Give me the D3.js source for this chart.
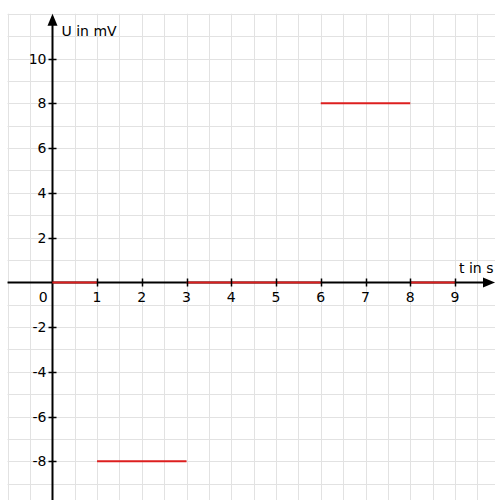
<!DOCTYPE html>
<html>
<head>
<meta charset="utf-8">
<script src="https://cdn.jsdelivr.net/npm/d3@7"></script>
<style>
html,body{margin:0;padding:0;background:#fff;}
svg{display:block;}
text{font-family:"DejaVu Sans",Verdana,sans-serif;font-size:14px;fill:#000;}
</style>
</head>
<body>
<svg id="chart" width="495" height="500"></svg>
<script>
// Data
const segStart = [0, 1, 3, 6, 8];
const segEnd   = [1, 3, 6, 8, 9];
const segValue = [0, -8, 0, 8, 0];
const xTicks = [1, 2, 3, 4, 5, 6, 7, 8, 9];
const yTicks = [10, 8, 6, 4, 2, -2, -4, -6, -8];
const xLabel = "t in s";
const yLabel = "U in mV";

const W = 495, H = 500;
const svg = d3.select("#chart");
const x = d3.scaleLinear().domain([0, 9]).range([52.3, 455]);
const y = d3.scaleLinear().domain([0, 10]).range([282.3, 58.5]);

const gridLeft = x(-1), gridTop = y(12);

// grid
const g = svg.append("g").attr("stroke", "#e2e2e2").attr("stroke-width", 1);
const vx = d3.range(-1, 10.01, 0.5);
g.selectAll("line.v").data(vx).enter().append("line")
  .attr("x1", d => Math.round(x(d)) + 0.5).attr("x2", d => Math.round(x(d)) + 0.5)
  .attr("y1", gridTop).attr("y2", H);
const hy = d3.range(-10, 12.01, 1);
g.selectAll("line.h").data(hy).enter().append("line")
  .attr("y1", d => Math.round(y(d)) + 0.5).attr("y2", d => Math.round(y(d)) + 0.5)
  .attr("x1", gridLeft).attr("x2", W);

// axes
const ax0 = Math.round(x(0)) + 0.5, ay0 = Math.round(y(0)) + 0.5;
svg.append("line").attr("x1", gridLeft).attr("x2", W - 10).attr("y1", ay0).attr("y2", ay0)
  .attr("stroke", "#000").attr("stroke-width", 2);
svg.append("path").attr("d", `M${W},${ay0} L${W - 12},${ay0 - 5} L${W - 12},${ay0 + 5}Z`).attr("fill", "#000");
svg.append("line").attr("x1", ax0).attr("x2", ax0).attr("y1", gridTop + 10).attr("y2", H)
  .attr("stroke", "#000").attr("stroke-width", 2);
svg.append("path").attr("d", `M${ax0},${gridTop} L${ax0 - 5},${gridTop + 12} L${ax0 + 5},${gridTop + 12}Z`).attr("fill", "#000");

// red function
svg.append("g").selectAll("line").data(segStart).enter().append("line")
  .attr("x1", (d, i) => x(segStart[i])).attr("x2", (d, i) => x(segEnd[i]))
  .attr("y1", (d, i) => segValue[i] === 0 ? ay0 : y(segValue[i]))
  .attr("y2", (d, i) => segValue[i] === 0 ? ay0 : y(segValue[i]))
  .attr("stroke", "#dd1f1f").attr("stroke-width", 2);

// ticks
svg.append("g").selectAll("line").data(xTicks).enter().append("line")
  .attr("x1", d => Math.round(x(d)) + 0.5).attr("x2", d => Math.round(x(d)) + 0.5)
  .attr("y1", ay0 - 4).attr("y2", ay0 + 4).attr("stroke", "#000").attr("stroke-width", 1.5);
svg.append("g").selectAll("line").data(yTicks).enter().append("line")
  .attr("y1", d => Math.round(y(d)) + 0.5).attr("y2", d => Math.round(y(d)) + 0.5)
  .attr("x1", ax0 - 4).attr("x2", ax0 + 4).attr("stroke", "#000").attr("stroke-width", 1.5);

// labels
svg.append("g").selectAll("text").data(xTicks).enter().append("text")
  .attr("x", d => x(d)).attr("y", ay0 + 19).attr("text-anchor", "middle").text(d => d);
svg.append("text").attr("x", x(0) - 9).attr("y", ay0 + 19).attr("text-anchor", "middle").text("0");
svg.append("g").selectAll("text").data(yTicks).enter().append("text")
  .attr("x", ax0 - 6).attr("y", d => y(d) + 5).attr("text-anchor", "end").text(d => d);
svg.append("text").attr("x", ax0 + 9).attr("y", 36).text(yLabel);
svg.append("text").attr("x", 459).attr("y", 273).text(xLabel);
</script>
</body>
</html>
